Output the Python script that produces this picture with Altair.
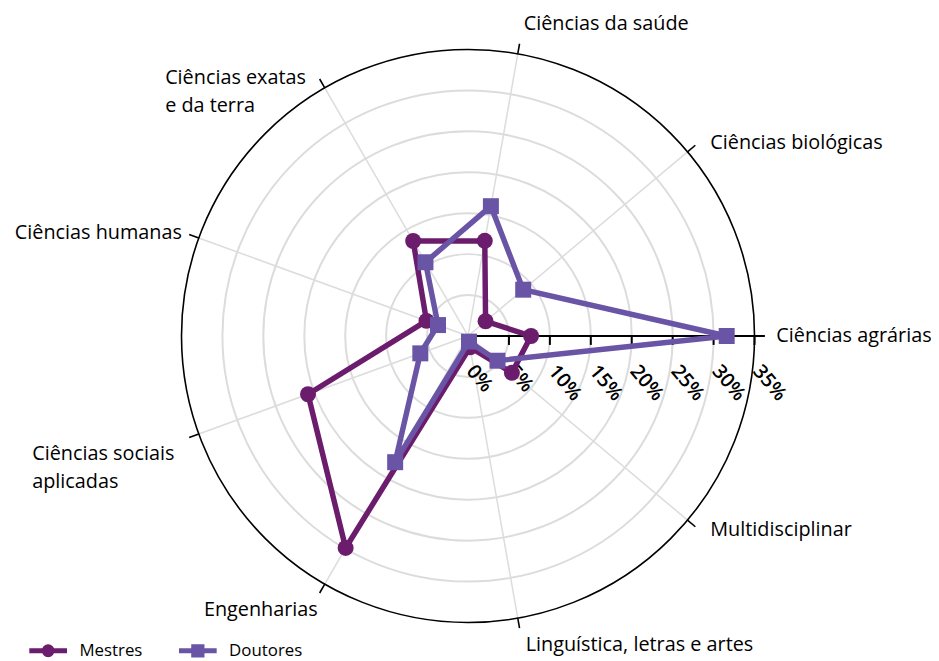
import math
import altair as alt
import pandas as pd

# ---------------- data ----------------
categories = [
    "Ciências agrárias",
    "Ciências biológicas",
    "Ciências da saúde",
    "Ciências exatas\ne da terra",
    "Ciências humanas",
    "Ciências sociais\naplicadas",
    "Engenharias",
    "Linguística, letras e artes",
    "Multidisciplinar",
]
mestres = [7.7, 2.8, 11.8, 13.4, 5.4, 20.8, 29.9, 1.4, 7.0]
doutores = [31.6, 8.8, 16.1, 10.4, 3.9, 6.2, 17.8, 0.7, 4.7]
series_names = ["Mestres", "Doutores"]
grid_levels = [5, 10, 15, 20, 25, 30]
tick_values = [0, 5, 10, 15, 20, 25, 30, 35]
r_max = 35

# ---------------- style / layout ----------------
FONT = "Open Sans"
COLORS = ["#6b1c6c", "#6a54a6"]
SHAPES = ["circle", "square"]
LEG_PATHS = [
    "M-1,0H1M0.21,0A0.21,0.21 0 1,1 -0.21,0A0.21,0.21 0 1,1 0.21,0Z",
    "M-1,0H1M-0.22,-0.22H0.22V0.22H-0.22Z",
]
LEG_X = [-156, -5]
SIZE = 578
N = len(categories)
ANG = f"datum.idx * 2 * PI / {N}"
EXT = 36.25          # black radial extension beyond outer circle (data units)
TICK = 1.09          # radial-axis tick length (data units, ~9px)
# per-label (align, dx, dy) relative to spoke end
LABEL_LAYOUT = [
    ("left", 22, 0),
    ("left", 23, -9),
    ("left", 6, -30),
    ("left", -161, -10),
    ("right", -17, -5),
    ("left", -168, 20),
    ("right", -7, 26),
    ("left", 8, 27),
    ("left", 23, 10),
]

xs = alt.Scale(domain=[-r_max, r_max], nice=False, zero=False)
ys = alt.Scale(domain=[-r_max, r_max], nice=False, zero=False)
rs = alt.Scale(type="linear", domain=[0, r_max], range=[0, SIZE / 2], zero=True)

# ---------------- tables ----------------
rows = []
for name, vals in zip(series_names, [mestres, doutores]):
    for k in range(N + 1):
        rows.append({"series": name, "idx": k % N, "order": k, "value": vals[k % N]})
series_df = pd.DataFrame(rows)
cat_df = pd.DataFrame({"idx": list(range(N)), "label": categories})
grid_df = pd.DataFrame({"level": grid_levels})
outer_df = pd.DataFrame({"level": [r_max]})
tick_df = pd.DataFrame({"tick": tick_values})


def X(f):
    return alt.X(f, scale=xs, axis=None)


def Y(f):
    return alt.Y(f, scale=ys, axis=None)


# ---------------- layers ----------------
grid = alt.Chart(grid_df).mark_arc(
    theta=0, theta2=2 * math.pi, filled=False, stroke="#dcdcdc", strokeWidth=2
).encode(radius=alt.Radius("level:Q", scale=rs, stack=False))

outer = alt.Chart(outer_df).mark_arc(
    theta=0, theta2=2 * math.pi, filled=False, stroke="black", strokeWidth=1.6
).encode(radius=alt.Radius("level:Q", scale=rs, stack=False))

spokes = alt.Chart(cat_df).transform_calculate(
    a=ANG, z="0",
    ex=f"{r_max} * cos(datum.a)", ey=f"{r_max} * sin(datum.a)",
).mark_rule(stroke="#dcdcdc", strokeWidth=1.5).encode(
    x=X("z:Q"), y=Y("z:Q"), x2="ex:Q", y2="ey:Q",
)

outer_ticks = alt.Chart(cat_df).transform_calculate(
    a=ANG,
    sx=f"{r_max} * cos(datum.a)", sy=f"{r_max} * sin(datum.a)",
    ex=f"{EXT} * cos(datum.a)", ey=f"{EXT} * sin(datum.a)",
).mark_rule(stroke="black", strokeWidth=1.6).encode(
    x=X("sx:Q"), y=Y("sy:Q"), x2="ex:Q", y2="ey:Q",
)

axis_line = alt.Chart(tick_df).transform_aggregate(
    lo="min(tick)"
).transform_calculate(hi=f"{EXT}", z="0").mark_rule(
    stroke="black", strokeWidth=2
).encode(x=X("lo:Q"), x2="hi:Q", y=Y("z:Q"))

axis_ticks = alt.Chart(tick_df).transform_calculate(
    z="0", t=f"-{TICK}"
).mark_rule(stroke="black", strokeWidth=2).encode(
    x=X("tick:Q"), y=Y("z:Q"), y2="t:Q"
)

axis_labels = alt.Chart(tick_df).transform_calculate(
    z="0", lab="datum.tick + '%'"
).mark_text(
    angle=50, align="left", baseline="middle", dx=26, dy=19,
    font=FONT, fontSize=20, fontWeight=600, color="black",
).encode(x=X("tick:Q"), y=Y("z:Q"), text="lab:N")

labels = []
for i, (align, dx, dy) in enumerate(LABEL_LAYOUT):
    labels.append(
        alt.Chart(cat_df).transform_filter(alt.datum.idx == i).transform_calculate(
            a=ANG, lx=f"{r_max} * cos(datum.a)", ly=f"{r_max} * sin(datum.a)"
        ).mark_text(
            align=align, baseline="middle", dx=dx, dy=dy, font=FONT, fontSize=20,
            color="black", lineBreak="\n", lineHeight=28,
        ).encode(x=X("lx:Q"), y=Y("ly:Q"), text="label:N")
    )


def series_chart(k):
    name = series_names[k]
    color = COLORS[k]
    base = alt.Chart(series_df).transform_filter(alt.datum.series == name).transform_calculate(
        a=ANG, px="datum.value * cos(datum.a)", py="datum.value * sin(datum.a)"
    )
    sc = alt.Scale(domain=[name], range=[color])
    line = base.mark_line(strokeWidth=5.5).encode(
        x=X("px:Q"), y=Y("py:Q"), order="order:Q",
        color=alt.Color(
            "series:N", scale=sc,
            legend=alt.Legend(
                orient="none", legendX=LEG_X[k], legendY=585, title=None, padding=0,
                symbolType=LEG_PATHS[k], symbolSize=1444, symbolStrokeWidth=5,
                symbolFillColor=color, symbolStrokeColor=color, symbolOpacity=1,
                labelFontSize=17, labelFont=FONT, labelColor="black", labelOffset=10,
            ),
        ),
    )
    pts = base.transform_filter(alt.datum.order < N).mark_point(
        filled=True, shape=SHAPES[k], size=260, opacity=1
    ).encode(
        x=X("px:Q"), y=Y("py:Q"),
        color=alt.Color("series:N", scale=sc, legend=None),
    )
    return alt.layer(line, pts)


chart = alt.layer(
    grid, spokes, outer, outer_ticks, axis_line, axis_ticks, axis_labels, *labels,
    series_chart(0), series_chart(1),
).resolve_scale(color="independent").properties(
    width=SIZE, height=SIZE,
    padding={"left": 175, "top": 39, "right": 178, "bottom": 36},
    autosize=alt.AutoSizeParams(type="none"),
).configure_view(strokeWidth=0)

chart.save("out.html", embed_options={"renderer": "svg", "actions": False})
